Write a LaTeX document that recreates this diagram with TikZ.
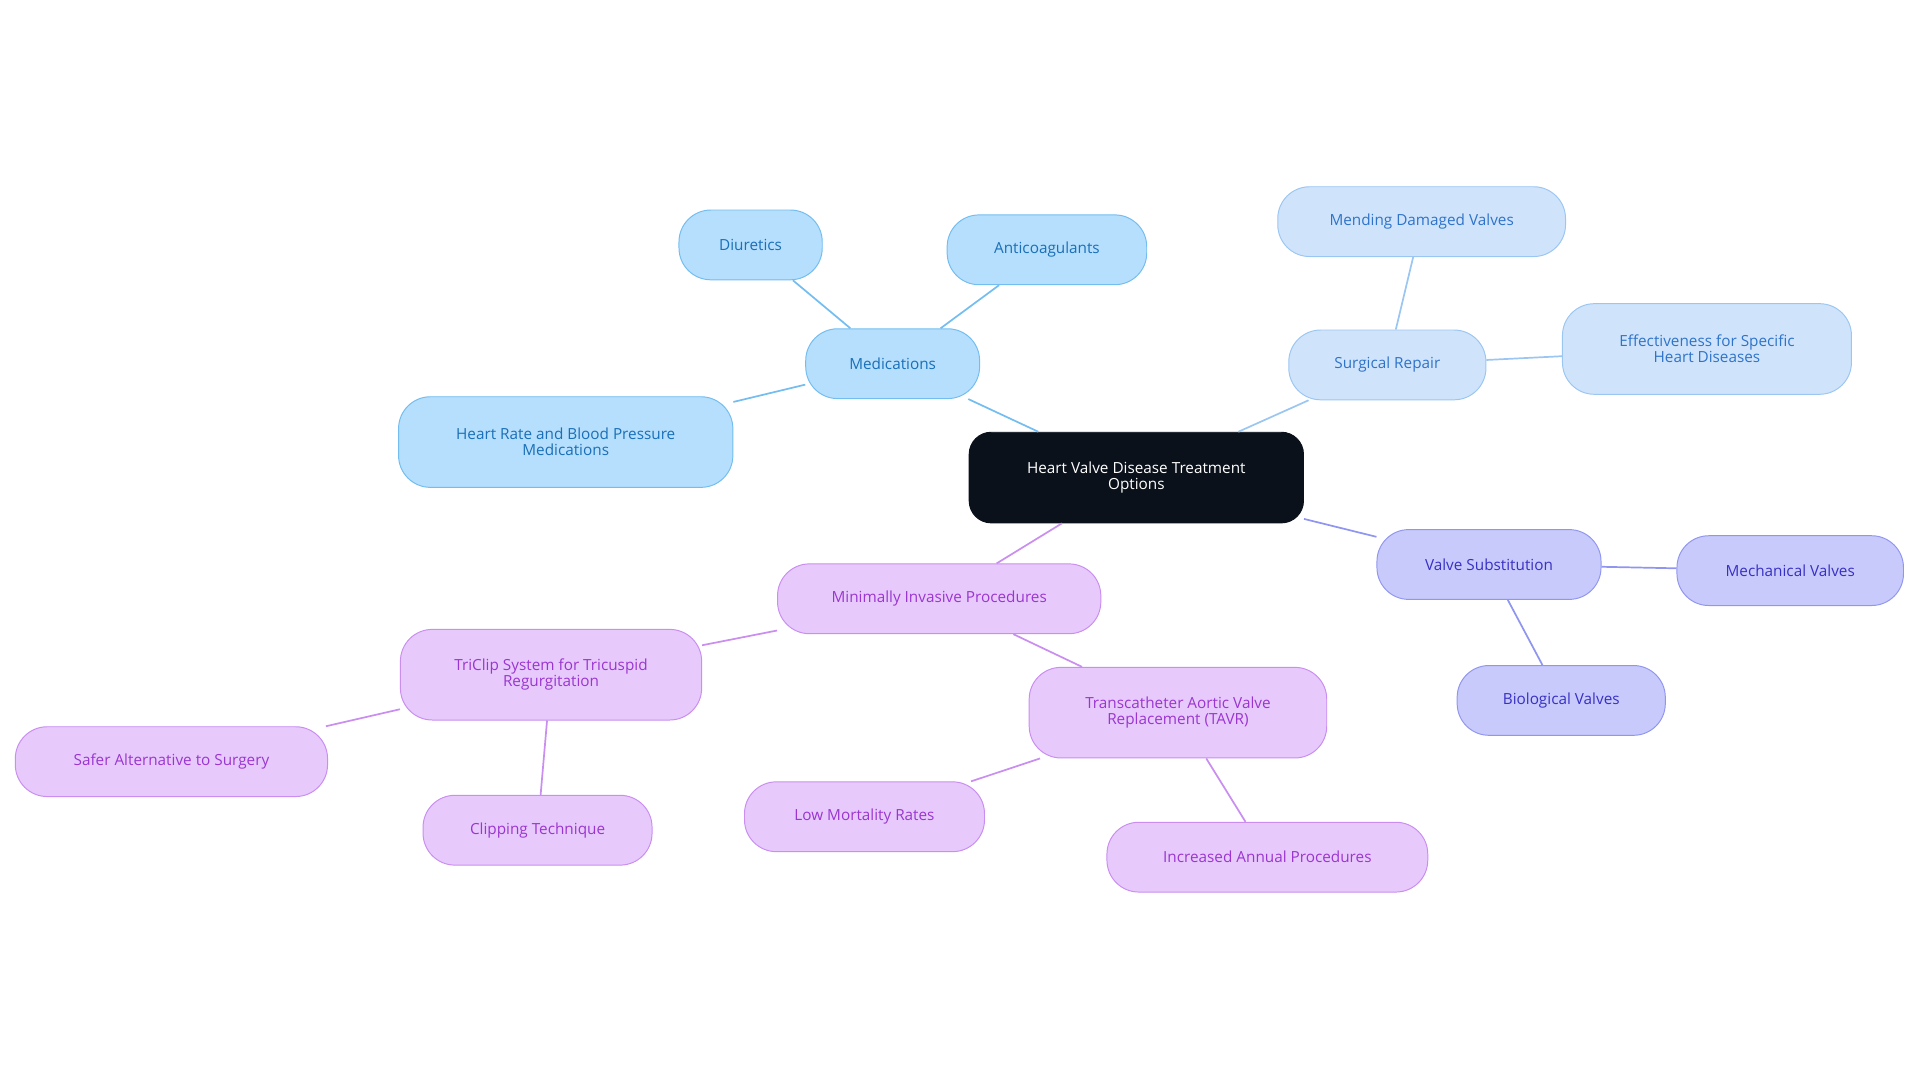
\documentclass[tikz,border=0pt]{standalone}
\usepackage{fontspec}
\setmainfont{Open Sans}
\definecolor{bF}{HTML}{B5DFFC}\definecolor{bS}{HTML}{74BDF0}\definecolor{bT}{HTML}{1A6FB8}
\definecolor{lF}{HTML}{CFE4FB}\definecolor{lS}{HTML}{9CC6F2}\definecolor{lT}{HTML}{2F73C9}
\definecolor{iF}{HTML}{C8CAFB}\definecolor{iS}{HTML}{9096EF}\definecolor{iT}{HTML}{3730C4}
\definecolor{pF}{HTML}{E8C9FC}\definecolor{pS}{HTML}{C98EF0}\definecolor{pT}{HTML}{9A36D0}
\definecolor{cF}{HTML}{0B111A}
\begin{document}
\begin{tikzpicture}[x=1pt,y=-1pt,
 box/.style={rounded corners=26pt,draw,line width=0.8pt,align=center,font=\fontsize{12.5}{13}\selectfont,inner sep=0pt},
 bb/.style={box,fill=bF,draw=bS,text=bT},
 lb/.style={box,fill=lF,draw=lS,text=lT},
 ib/.style={box,fill=iF,draw=iS,text=iT},
 pb/.style={box,fill=pF,draw=pS,text=pT},
 e/.style={line width=1.4pt}]
\useasboundingbox (0,0) rectangle (1568,884);
\newcommand{\bx}[6]{\node[#1,minimum width=#4pt,minimum height=#5pt] (#2) at (#3) {#6};}
\bx{box,fill=cF,draw=cF,text=white,rounded corners=18pt}{c}{928,390}{273}{74}{Heart Valve Disease Treatment\\Options}
\bx{bb}{med}{729,297}{142}{57}{Medications}
\bx{bb}{diu}{613,200}{117}{57}{Diuretics}
\bx{bb}{ant}{855,204}{163}{57}{Anticoagulants}
\bx{bb}{hr}{462,361}{273}{74}{Heart Rate and Blood Pressure\\Medications}
\bx{lb}{sr}{1133,298}{161}{57}{Surgical Repair}
\bx{lb}{mend}{1161,181}{235}{57}{Mending Damaged Valves}
\bx{lb}{eff}{1394,285}{236}{74}{Effectiveness for Specific\\Heart Diseases}
\bx{ib}{vs}{1216,461}{183}{57}{Valve Substitution}
\bx{ib}{mech}{1462,466}{185}{57}{Mechanical Valves}
\bx{ib}{bio}{1275,572}{170}{57}{Biological Valves}
\bx{pb}{mip}{767,489}{264}{57}{Minimally Invasive Procedures}
\bx{pb}{tri}{450,551}{246}{74}{TriClip System for Tricuspid\\Regurgitation}
\bx{pb}{safe}{140,622}{255}{57}{Safer Alternative to Surgery}
\bx{pb}{clip}{439,678}{187}{57}{Clipping Technique}
\bx{pb}{tavr}{962,582}{243}{74}{Transcatheter Aortic Valve\\Replacement (TAVR)}
\bx{pb}{low}{706,667}{196}{57}{Low Mortality Rates}
\bx{pb}{inc}{1035,700}{262}{57}{Increased Annual Procedures}
\begin{scope}[on background layer/.style={}]
\end{scope}
\draw[e,bS] (c) -- (med); \draw[e,bS] (med) -- (diu); \draw[e,bS] (med) -- (ant); \draw[e,bS] (med) -- (hr);
\draw[e,lS] (c) -- (sr); \draw[e,lS] (sr) -- (mend); \draw[e,lS] (sr) -- (eff);
\draw[e,iS] (c) -- (vs); \draw[e,iS] (vs) -- (mech); \draw[e,iS] (vs) -- (bio);
\draw[e,pS] (c) -- (mip); \draw[e,pS] (mip) -- (tri); \draw[e,pS] (mip) -- (tavr);
\draw[e,pS] (tri) -- (safe); \draw[e,pS] (tri) -- (clip);
\draw[e,pS] (tavr) -- (low); \draw[e,pS] (tavr) -- (inc);
\end{tikzpicture}
\end{document}
